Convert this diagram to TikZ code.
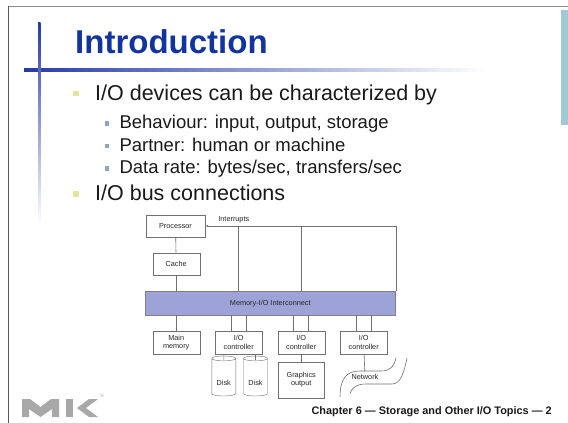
\documentclass[tikz,border=0pt]{standalone}
\usepackage{fontspec}
\setmainfont{Liberation Sans}
\usepackage{tikz}
\usetikzlibrary{shapes.geometric,arrows.meta,positioning,calc}

\definecolor{titleblue}{RGB}{18,52,158}
\definecolor{ruleblue}{RGB}{38,58,165}
\definecolor{busblue}{RGB}{157,163,214}
\definecolor{edgegray}{RGB}{112,112,112}
\definecolor{dotyellow}{RGB}{228,228,160}
\definecolor{dotgray}{RGB}{145,165,182}
\definecolor{logogray}{RGB}{168,168,168}
\definecolor{stripblue}{RGB}{160,200,214}

\begin{document}
\begin{tikzpicture}[x=1pt,y=-1pt,
        unit/.style={rectangle,draw=edgegray,fill=white,minimum width=47pt,minimum height=23pt,inner sep=1pt,align=center,font=\fontsize{7.3}{8.4}\selectfont,text=black!85},
        disk/.style={cylinder,shape border rotate=90,aspect=0.3,draw=edgegray,fill=white,minimum width=24pt,minimum height=40pt,inner sep=1pt,text height=15pt,text depth=0pt,font=\fontsize{7.3}{8.4}\selectfont,text=black!85},
        wire/.style={draw=edgegray,line width=0.6pt},
        lvlone/.style={anchor=base west,inner sep=0,font=\fontsize{21.5}{24}\selectfont,text=black!90},
        lvltwo/.style={anchor=base west,inner sep=0,font=\fontsize{18.5}{22}\selectfont,text=black!90},
        dotone/.style={rectangle,fill=dotyellow,minimum size=5.5pt,inner sep=0},
        dottwo/.style={rectangle,fill=dotgray,minimum size=4.5pt,inner sep=0}]
        \useasboundingbox (0,0) rectangle (568,423);

        % slide frame
        \draw[black!45,line width=0.8pt] (8.5,6) -- (568,6);
        \draw[black!65,line width=0.9pt] (8.5,423) -- (8.5,6);
        \fill[stripblue] (561,10) rectangle (568,125);
        \shade[left color=ruleblue,middle color=ruleblue!40,right color=white] (24,68.2) rectangle (485,71.8);
        \shade[top color=ruleblue,bottom color=white] (38,22) rectangle (40.3,225);

        % title and bullets
        \node[anchor=base west,inner sep=0,font=\fontsize{33}{36}\selectfont\bfseries,text=titleblue] (title) at (75,53.3) {Introduction};
        \node[dotone] (dota) at (75.8,93.5) {};
        \node[lvlone] (texta) at (95,100) {I/O devices can be characterized by};
        \node[dottwo] (dotb) at (107,123.5) {};
        \node[lvltwo] (textb) at (119.3,128.3) {Behaviour: input, output, storage};
        \node[dottwo] (dotc) at (107,146.2) {};
        \node[lvltwo] (textc) at (119.3,151) {Partner: human or machine};
        \node[dottwo] (dotd) at (107,168.7) {};
        \node[lvltwo] (textd) at (119.3,173.5) {Data rate: bytes/sec, transfers/sec};
        \node[dotone] (dote) at (75.8,193.8) {};
        \node[lvlone] (texte) at (95,200.3) {I/O bus connections};

        % diagram
        \node[unit,minimum width=59pt,minimum height=22pt] (proc) at (175.5,226) {Processor};
        \node[unit,minimum height=22pt] (cache) at (176.2,263.8) {Cache};
        \node[rectangle,draw=black!50,fill=busblue,minimum width=250.7pt,minimum height=23.3pt,font=\fontsize{7.3}{8.4}\selectfont,text=black!85] (bus) at (270.3,303.3) {Memory-I/O Interconnect};
        \node[unit] (mem) at (176.2,342.5) {Main\\memory};
        \node[unit] (ctrla) at (238.7,342.5) {I/O\\controller};
        \node[unit] (ctrlb) at (301.2,342.5) {I/O\\controller};
        \node[unit] (ctrlc) at (363.7,342.5) {I/O\\controller};
        \node[disk] (diska) at (223.8,377.8) {Disk};
        \node[disk] (diskb) at (255.5,377.8) {Disk};
        \node[unit,minimum width=45.7pt,minimum height=36pt] (gfx) at (301.2,379.7) {Graphics\\output};
        \node[inner sep=2.5pt,font=\fontsize{7.3}{8.4}\selectfont,text=black!85] (net) at (365,377) {Network};

        \draw[wire] (proc) -- (cache);
        \draw[wire] (cache) -- (cache |- bus.north);
        \draw[wire] (mem) -- (mem |- bus.south);
        \draw[wire] ([xshift=-7.5pt]ctrla.north) -- ([xshift=-7.5pt]ctrla.north |- bus.south);
        \draw[wire] ([xshift=7.5pt]ctrla.north) -- ([xshift=7.5pt]ctrla.north |- bus.south);
        \draw[wire] ([xshift=-7.5pt]ctrlb.north) -- ([xshift=-7.5pt]ctrlb.north |- bus.south);
        \draw[wire] ([xshift=7.5pt]ctrlb.north) -- ([xshift=7.5pt]ctrlb.north |- bus.south);
        \draw[wire] ([xshift=-7.5pt]ctrlc.north) -- ([xshift=-7.5pt]ctrlc.north |- bus.south);
        \draw[wire] ([xshift=7.5pt]ctrlc.north) -- ([xshift=7.5pt]ctrlc.north |- bus.south);
        \draw[wire] (diska |- ctrla.south) -- ($(diska.north)+(0,4)$);
        \draw[wire] (diskb |- ctrla.south) -- ($(diskb.north)+(0,4)$);
        \draw[wire] (ctrlb) -- (gfx);
        \draw[wire] (ctrlc) -- (net);

        % interrupt lines
        \coordinate (irq) at (bus.east |- proc.east);
        \draw[wire,-{Latex[length=3pt,width=2.4pt]}] (irq) -- (proc);
        \draw[wire] (irq) -- (bus.north east);
        \draw[wire] (ctrla |- irq) -- (ctrla |- bus.north);
        \draw[wire] (ctrlb |- irq) -- (ctrlb |- bus.north);
        \node[anchor=south west,inner sep=1pt,font=\fontsize{7.3}{8.4}\selectfont,text=black!85] (irqlabel) at ([xshift=12pt,yshift=1.5pt]proc.east) {Interrupts};

        % network cloud
        \draw[wire] (340,397) .. controls (340,378) and (347,371) .. (360,371) -- (381,371) .. controls (391,371) and (394,366) .. (396,358);
        \draw[wire] (350,394) .. controls (352,387) and (357,384) .. (366,384) -- (392,384) .. controls (401,384) and (404,372) .. (407,358);

        % footer and logo
        \node[anchor=base east,inner sep=0,font=\fontsize{10.9}{12}\selectfont\bfseries,text=black!90] (foot) at (552,414) {Chapter 6 — Storage and Other I/O Topics — 2};
        \fill[logogray] (22,417) -- (22,399) -- (30,399) -- (40.5,407) -- (51,399) -- (59,399) -- (59,417) -- (52,417) -- (52,409) -- (40.5,417) -- (29,409) -- (29,417) -- cycle;
        \fill[logogray] (66,399) rectangle (73,417);
        \fill[logogray] (98,399) -- (89,399) -- (77,408) -- (89,417) -- (98,417) -- (86,408) -- cycle;
        \node[inner sep=0,font=\fontsize{5}{5}\selectfont,text=logogray] (reg) at (102,396) {®};
\end{tikzpicture}
\end{document}
